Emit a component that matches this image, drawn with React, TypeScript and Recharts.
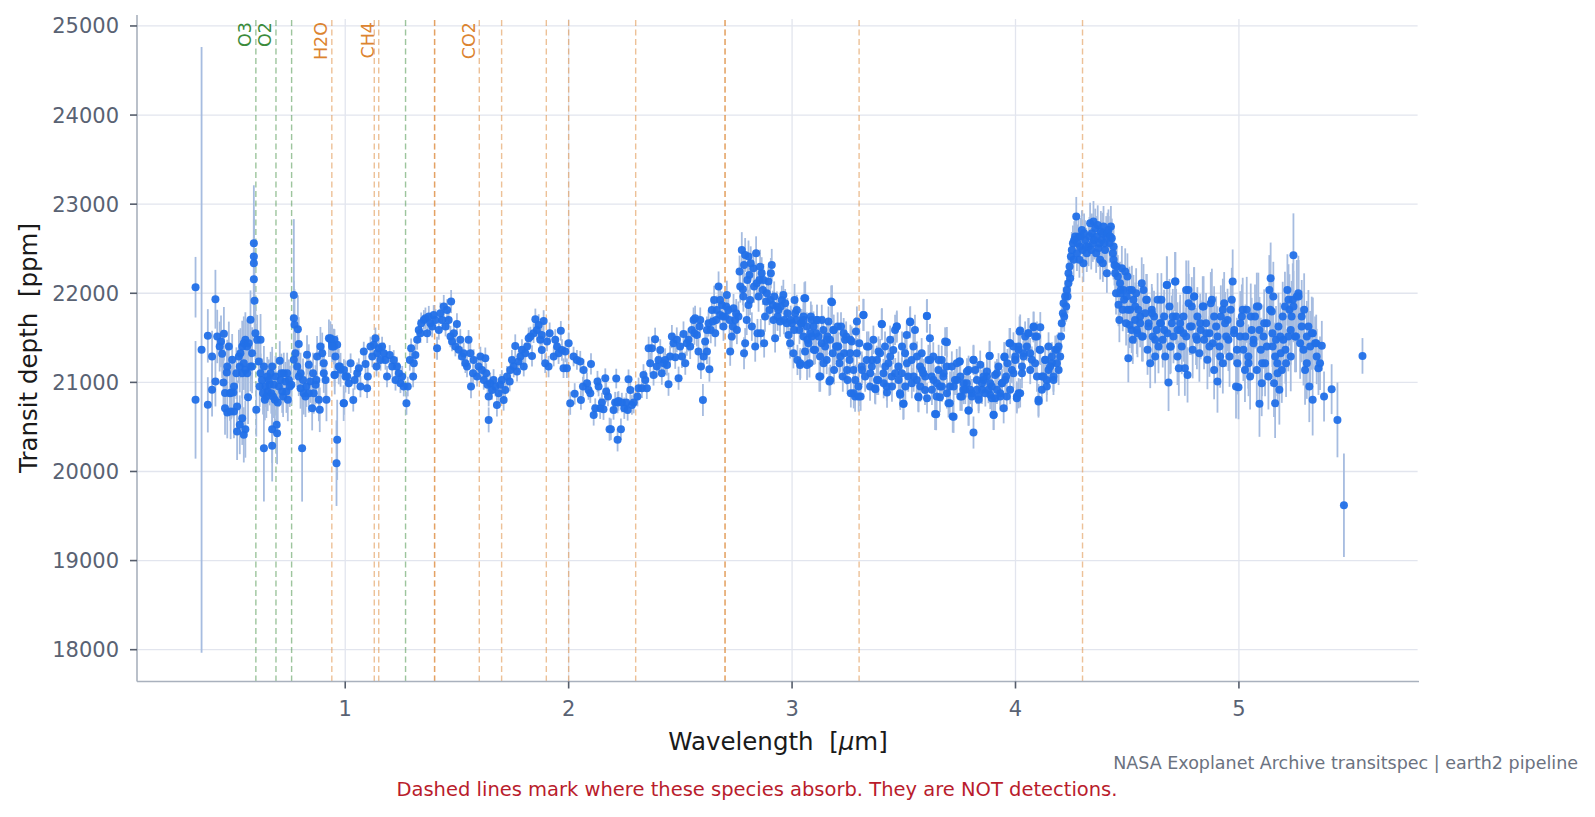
import React from 'react';
import { ScatterChart, Scatter, XAxis, YAxis, ErrorBar, ReferenceLine } from 'recharts';

type Pt = [number, number, number];

const X_TICKS = [1, 2, 3, 4, 5];
const Y_TICKS = [18000, 19000, 20000, 21000, 22000, 23000, 24000, 25000];
const X_DOMAIN: [number, number] = [0.068, 5.806];
const Y_DOMAIN: [number, number] = [17643, 25123];

const O3_LINES = [0.6];
const O2_LINES = [0.69, 0.76, 1.27];
const H2O_LINES = [0.94, 1.13, 1.4, 1.9, 2.7];
const CH4_LINES = [1.15, 1.4, 1.7, 2.3, 3.3];
const CO2_LINES = [1.6, 2.0, 2.7, 4.3];

const GREEN = '#3b8b3b';
const ORANGE = '#dc8430';

// wavelength [um], transit depth [ppm], 1-sigma error [ppm]
const SEG_UV: Pt[] = [
[0.330,22068,340],[0.330,20804,660],[0.357,21365,3400],[0.385,21522,300],[0.385,20748,310],[0.404,21290,290],[0.404,20916,300],[0.419,21933,330],[0.419,21010,280],[0.427,21515,300],[0.438,21402,280],[0.444,21460,290],[0.449,21320,270],[0.457,21545,300],[0.455,21000,280],[0.462,20880,290],[0.470,21110,270],[0.472,21178,300],[0.479,21402,280],[0.484,20879,310],[0.494,21253,290],[0.490,20886,300],[0.499,20886,280],[0.462,20711,300],[0.472,20662,290],[0.487,20673,310],[0.502,20673,300],[0.516,20730,290],[0.516,20448,320],[0.528,20524,330],[0.539,20598,300],[0.546,20411,310],[0.553,20475,320],[0.502,20954,280],[0.513,21103,290],[0.524,21290,300],[0.531,21328,280],[0.539,21402,290],[0.546,21440,300],[0.553,21477,310],[0.561,21402,300],[0.568,21440,290],[0.576,21702,330],[0.561,21103,280],[0.565,20834,300],[0.583,21328,290],[0.598,21552,300],[0.606,21477,280],[0.621,21477,290],[0.602,20692,300],[0.591,22562,650],[0.591,22412,520],[0.591,22337,500],[0.591,22158,480],[0.594,21915,450],[0.528,21178,290],[0.539,21103,280],[0.546,21215,300],[0.553,21141,290],[0.576,21178,280],[0.583,21178,300]
];

const SEG_VIS: Pt[] = [
[0.613,21234,230],[0.621,21103,220],[0.628,21028,240],[0.636,21178,230],[0.636,20262,600],[0.643,20954,230],[0.647,20841,240],[0.653,20898,220],[0.658,21028,230],[0.666,21103,240],[0.669,20879,230],[0.673,21178,220],[0.673,20288,400],[0.673,20475,380],[0.680,20972,230],[0.685,20804,240],[0.693,20524,330],[0.695,20430,350],[0.698,20774,240],[0.703,20954,230],[0.707,21242,220],[0.710,21028,230],[0.718,20898,240],[0.725,21103,230],[0.733,21010,220],[0.740,21103,230],[0.743,20804,240],[0.752,20954,230],[0.770,21982,850],[0.770,21720,420],[0.773,21646,400],[0.788,21597,380],[0.792,21432,300],[0.770,21253,230],[0.777,21328,240],[0.785,21178,230],[0.792,21066,220],[0.800,20935,230],[0.807,20262,600],[0.814,20879,240],[0.822,20841,230],[0.829,21309,220],[0.837,21197,230],[0.844,21010,240],[0.852,20711,250],[0.859,20879,230],[0.867,20972,220],[0.874,21290,230],[0.882,20804,240],[0.886,20692,250],[0.889,21402,220],[0.897,21328,230],[0.904,21215,220],[0.916,20804,240],[0.927,21496,210],[0.934,21485,200],[0.941,21440,210],[0.949,21402,200],[0.956,21290,210],[0.953,21085,220],[0.964,20355,450],[0.961,20093,480],[0.971,21178,200],[0.979,21141,190],[0.993,20767,200],[1.001,21066,180],
[0.617,20954,230],[0.632,20879,240],[0.640,20804,230],[0.651,21066,220],[0.662,20972,230],[0.677,20841,240],[0.688,21066,230],[0.714,21103,220],[0.722,20841,230],[0.737,20898,240],[0.748,21028,230],[0.759,20972,220],[0.800,21103,230],[0.811,21028,240],[0.826,20954,230],[0.837,20879,220],[0.856,21103,230],[0.871,21028,240],[0.904,21103,220],[0.912,21028,230]
];

const SEG_NIR1: Pt[] = [
[0.934,21495,110],[0.952,21477,120],[0.964,21421,110],[0.941,21402,120],[0.952,21084,130],[0.976,21177,110],[0.994,21140,120],[0.994,20766,130],[1.009,21065,110],[1.016,20990,120],[1.024,21215,110],[1.036,20803,130],[1.042,21028,110],[1.054,21103,120],[1.061,21159,110],[1.068,20953,120],[1.083,21346,110],[1.091,21207,120],[1.098,20934,110],[1.101,21065,120],[1.113,21402,110],[1.121,21290,120],[1.128,21421,110],[1.135,21495,120],[1.140,21177,110],[1.143,21327,120],[1.150,21383,110],[1.158,21252,120],[1.165,21402,110],[1.173,21327,120],[1.180,21252,110],[1.187,21065,120],[1.199,21308,110],[1.210,21177,120],[1.217,21252,110],[1.225,21028,120],[1.232,21177,110],[1.240,21103,120],[1.247,20990,110],[1.255,21065,120],[1.262,20953,110],[1.274,20766,130],[1.280,20953,110],[1.289,21252,120],[1.295,21383,110],[1.304,21065,120],[1.307,21215,110],[1.314,21308,120],[1.322,21477,110],[1.329,21589,120],[1.337,21552,110],[1.340,21664,120],[1.352,21701,110],[1.359,21720,120],[1.367,21552,110],[1.374,21738,120],[1.381,21664,110],[1.389,21626,120],[1.396,21757,110],[1.404,21701,120],[1.411,21383,130],[1.419,21589,110],[1.426,21776,120],[1.434,21701,110],[1.441,21851,130],[1.449,21626,110],[1.456,21813,120],[1.463,21701,110],[1.474,21907,130],[1.471,21514,120],[1.478,21458,110],[1.486,21552,120],[1.493,21402,110],[1.500,21656,120],[1.508,21365,110],[1.515,21477,120],[1.523,21290,110],[1.530,21327,120],[1.538,21215,110],[1.545,21177,120],[1.552,21477,110],[1.560,21327,120],[1.563,20953,130],[1.572,21103,110],[1.575,21252,120],[1.590,21065,110],[1.597,21177,120],[1.605,21290,110],[1.612,21140,120],[1.620,21028,110],[1.627,21271,120],[1.631,21103,110],[1.637,20972,120],[1.642,20841,110],[1.642,20579,140],[1.649,20990,120],[1.657,20915,110],[1.664,21028,120],[1.672,20953,110],[1.679,20747,130],[1.687,20878,110],[1.694,20972,120],[1.701,21028,110],[1.709,20803,120],[1.716,20915,110],[1.724,21065,120],[1.736,21009,110],[1.739,21140,120],[1.746,21252,110],[1.754,21177,120],[1.761,21409,130],[1.769,21121,110],[1.776,21233,120],[1.784,21290,110],[1.791,21365,120],[1.799,21177,110],[1.806,21327,120],[1.814,21402,110],[1.821,21495,120],[1.829,21514,110],[1.836,21297,120],[1.843,21552,110],[1.851,21708,120],[1.858,21589,110],[1.866,21645,120],[1.873,21477,110]
];

const SEG_NIR2: Pt[] = [
[1.888,21690,120],[1.880,21533,110],[1.880,21364,120],[1.903,21458,110],[1.915,21552,120],[1.895,21215,110],[1.910,21177,120],[1.933,21290,110],[1.940,21477,120],[1.948,21402,110],[1.955,21327,120],[1.965,21578,110],[1.970,21364,120],[1.977,21159,110],[1.985,21346,120],[1.992,21159,110],[2.000,21439,120],[2.007,20766,130],[2.022,21290,110],[2.027,20871,120],[2.037,21252,110],[2.052,21233,120],[2.055,20803,110],[2.067,21140,120],[2.064,20953,110],[2.082,20990,120],[2.089,20915,110],[2.100,21207,120],[2.097,20878,110],[2.112,20635,120],[2.119,20710,110],[2.129,21009,120],[2.134,20953,110],[2.141,20710,120],[2.149,20773,110],[2.156,20699,120],[2.164,21047,110],[2.168,20897,120],[2.176,20841,110],[2.183,20474,130],[2.189,20474,120],[2.201,20691,110],[2.208,20773,120],[2.213,21043,110],[2.219,20773,120],[2.223,20792,110],[2.234,20474,120],[2.219,20355,130],[2.238,20773,110],[2.249,20710,120],[2.258,20773,110],[2.264,20691,120],[2.268,21035,110],[2.276,20915,120],[2.283,20747,110],[2.291,20773,120],[2.308,20841,110],[2.313,20934,120],[2.328,20934,110],[2.335,21084,120],[2.343,21028,110],[2.350,20934,120],[2.358,21383,130],[2.365,21215,120],[2.372,21383,130],[2.380,21084,120],[2.387,21484,130],[2.395,21177,120],[2.402,21252,130],[2.410,21364,120],[2.417,21103,130],[2.425,21215,120],[2.432,21252,130],[2.440,21196,120],[2.447,20979,130],[2.454,21290,120],[2.462,21514,130],[2.469,21439,120],[2.477,21282,130],[2.484,21477,140],[2.492,21047,130],[2.499,21402,140],[2.507,21290,130],[2.514,21544,140],[2.522,21215,130],[2.529,21439,140],[2.536,21477,130],[2.544,21402,140],[2.559,21701,140],[2.563,21552,130],[2.566,21720,140],[2.574,21533,130],[2.581,21346,140],[2.586,21626,130],[2.592,21177,140],[2.601,20803,180],[2.604,21290,140],[2.611,21458,130],[2.619,21346,140],[2.626,21664,150],[2.630,21148,140],[2.636,21589,150],[2.645,21682,140],[2.651,21925,160],[2.656,21552,150],[2.663,21813,160],[2.671,22075,170],[2.678,21757,160],[2.686,21869,150],[2.693,21626,160],[2.700,21738,150],[2.708,21981,160],[2.715,21813,150],[2.723,21346,160],[2.730,21514,150],[2.738,21832,160],[2.745,21701,150],[2.753,21589,160],[2.760,21738,170],[2.765,22243,180],[2.775,22486,200],[2.780,22045,180],[2.782,21963,170],[2.785,21327,180],[2.790,21439,170],[2.790,22430,190],[2.797,21701,170],[2.805,22412,180],[2.805,21869,170],[2.809,22206,180],[2.812,21925,170],[2.820,21626,160],[2.827,22281,180],[2.835,21402,170],[2.839,22449,190],[2.842,22112,170],[2.845,21552,160],[2.850,21963,170],[2.854,22150,180],[2.860,21552,160],[2.864,22225,180],[2.869,22038,170],[2.875,21439,160],[2.879,21738,170],[2.884,21907,160],[2.894,22131,170],[2.902,21925,160],[2.905,22225,170],[2.909,22318,180],[2.914,21869,160],[2.917,21701,170],[2.924,21495,160],[2.932,21851,170],[2.939,21813,160],[2.946,21682,170],[2.954,21925,160],[2.961,21981,170],[2.969,21888,160],[2.976,21664,170],[2.984,21533,160],[2.991,21439,170],[2.999,21664,160],[3.006,21327,170],[3.011,21925,180],[3.014,21776,170],[3.021,21701,160],[3.024,21252,170],[3.033,21589,160],[3.036,21196,170],[3.043,21664,160],[3.051,21514,170],[3.055,21944,180],[3.058,21346,170],[3.066,21626,160],[3.073,21439,170],[3.078,21215,160],[3.084,21738,170],[3.088,21514,160],[3.096,21626,170],[3.103,21364,160],[3.111,21701,170],[3.118,21514,160],[3.122,21065,170],[3.125,21290,160],[3.133,21439,170],[3.140,21589,160],[3.148,21402,170],[3.155,21252,160],[3.163,21682,170],[3.167,21009,160],[3.170,21477,170],[3.175,21907,180],[3.182,21327,170],[3.188,21140,160],[3.197,21402,170],[3.204,21626,160],[3.212,21215,170],[3.219,21626,160],[3.227,21065,170],[3.233,21327,160],[3.242,21514,170],[3.248,21028,160],[3.257,21252,170],[3.263,20878,160],[3.267,21458,170],[3.275,21140,160],[3.282,20841,170],[3.286,21570,160],[3.290,21682,170],[3.297,20953,160],[3.301,21439,170],[3.307,20841,160],[3.312,21177,170],[3.319,21757,180],[3.327,21065,170],[3.334,21252,160],[3.342,21402,170],[3.349,20953,160],[3.357,21177,170],[3.364,21477,160],[3.371,20934,170],[3.379,21252,160],[3.386,21028,170],[3.394,21327,160],[3.401,21656,170],[3.409,21103,160],[3.416,21402,170],[3.424,20953,160],[3.431,21215,170],[3.439,21477,160],[3.446,21065,170],[3.453,21364,160],[3.461,21589,170],[3.468,21626,160],[3.476,21177,170],[3.483,20878,160],[3.491,21103,170],[3.498,20759,180],[3.506,21327,170],[3.513,21533,160],[3.520,21065,170],[3.528,21682,160],[3.535,21252,170],[3.543,21402,160],[3.550,21589,170],[3.558,21028,160],[3.565,20841,170],[3.573,21177,160],[3.580,21327,170],[3.587,21103,160],[3.595,20915,170],[3.603,21746,180],[3.610,21252,170],[3.617,21495,160],[3.625,21065,170],[3.632,21290,160],[3.640,20646,180],[3.647,20841,170],[3.655,21140,160],[3.662,20953,170],[3.670,21252,160],[3.677,21065,170],[3.685,21458,160],[3.692,21177,170],[3.700,20766,160],[3.707,20953,170],[3.719,20616,180],[3.729,21028,170],[3.737,21215,160]
];

const SEG_NIR2_EXTRA: Pt[] = [
[2.551,21589,140],[2.589,21701,140],[2.619,21589,150],[2.641,21813,150],[2.660,21701,160],[2.678,21925,160],[2.690,21738,150],[2.705,21851,160],[2.720,21701,150],[2.735,21626,160],[2.750,21776,160],[2.768,22075,180],[2.785,22318,190],[2.800,22150,180],[2.815,22337,190],[2.830,22075,180],[2.857,22299,190],[2.872,22150,180],[2.887,22000,170],[2.899,21813,170],[2.920,21963,170],[2.935,21738,160],[2.949,21851,170],[2.964,21701,160],[2.979,21776,170],[2.994,21701,160],[3.009,21589,170],[3.021,21813,170],[3.039,21664,160],[3.051,21738,170],[3.069,21477,160],[3.088,21701,170],[3.108,21552,160],[3.133,21701,170],[3.158,21514,160],[3.185,21589,170],[3.207,21402,160],[3.237,21477,170],[3.260,21327,160],
[3.059,21944,190],[3.179,21899,190],[3.320,21757,180],[3.402,21653,180],[3.469,21626,180],[3.529,21675,180],[3.604,21746,190],[3.693,21451,170],[3.750,21234,170],[3.812,21252,170],[3.884,21297,170],[3.950,21282,170],[4.021,21582,180],[3.645,20643,180],[3.723,20613,180],[3.790,20684,170],[3.902,20635,170],[3.499,20759,170],[3.566,20834,170],[3.604,20822,170],[3.662,20834,170],[3.706,20766,170],[3.276,20878,170],[3.298,20841,170],[3.373,20923,170],[3.425,20886,170],[3.484,20860,170],[3.126,21065,170],[3.171,21028,170],[3.067,21196,170],[3.037,21215,170],[3.097,21365,170],[3.141,21215,170],[3.201,21402,170],[3.231,21552,170],[3.261,21477,170],[3.290,21327,170],[3.335,21402,170],[3.358,21252,170],[3.387,21346,170],[3.417,21178,170],[3.439,21290,170],[3.462,21103,170],[3.492,21402,170],[3.514,21215,170],[3.544,21065,170],[3.559,21290,170],[3.581,21140,170],[3.618,21252,170],[3.633,21028,170],[3.656,21252,170],[3.678,21103,170],[3.715,21178,170],[3.738,21028,170],[3.767,20916,160],[3.790,21140,160],[3.827,21028,160],[3.850,20916,160],[3.872,21065,160],[3.894,20953,160],[3.917,21103,160],[3.932,20878,160],[3.954,21028,160],[3.976,21440,170],[3.999,21252,170],[4.014,21402,170],[4.036,21290,170],[4.058,21552,170],[4.081,21626,170],[4.096,21514,170],[4.111,21365,170],[4.133,21252,170],[4.148,21140,170],[4.170,21028,170],[4.185,21365,170],[4.103,20785,180],[4.006,20841,170],[4.014,20878,170],
[3.052,21701,170],[3.082,21552,170],[3.112,21701,170],[3.156,21477,170],[3.186,21589,170],[3.216,21290,170],[3.246,21140,170],[3.283,21028,170],[3.313,21140,170],[3.350,21103,170],[3.380,21028,170],[3.410,20991,170],[3.447,20953,170],[3.477,21028,170],[3.507,20953,170],[3.536,20991,170],[3.574,20953,170],[3.596,21065,170],[3.626,20916,170],[3.648,20991,170],[3.671,20953,170],[3.693,20878,170],[3.723,20953,170],[3.753,20841,160],[3.782,20991,160],[3.805,20878,160],[3.835,20841,160],[3.857,21028,160],[3.887,20860,160],[3.909,20822,160],[3.939,20991,160],[3.961,20841,160],[3.991,21103,170],[4.029,21103,170],[4.066,21327,170],[4.088,21215,170],[4.118,21065,170],[4.140,21028,170],[4.163,21215,170],[4.193,21140,170]
];

const SEG_MIR: Pt[] = [
[3.750,21234,160],[3.753,21066,150],[3.760,20841,160],[3.768,20991,150],[3.775,20916,160],[3.783,21122,150],[3.790,20684,170],[3.797,20916,160],[3.805,20841,150],[3.812,21253,160],[3.812,20437,180],[3.820,21140,150],[3.827,20916,160],[3.835,20804,150],[3.842,21197,160],[3.850,20991,150],[3.857,21066,160],[3.865,20879,150],[3.872,21122,160],[3.879,20916,150],[3.884,21298,160],[3.887,20991,150],[3.894,20822,160],[3.902,20636,170],[3.909,21084,150],[3.917,20916,160],[3.924,21178,150],[3.932,20841,160],[3.939,20991,150],[3.947,20710,170],[3.951,21290,160],[3.958,21066,150],[3.964,21215,160],[3.973,21440,170],[3.976,20916,160],[3.984,21140,150],[3.991,21402,160],[3.999,21290,150],[4.006,20822,170],[4.014,21365,160],[4.018,21570,170],[4.021,20879,160],[4.029,21178,150],[4.036,21328,160],[4.043,21514,170],[4.051,21402,160],[4.058,21552,170],[4.066,21140,160],[4.073,21253,150],[4.081,21619,170],[4.088,21514,160],[4.096,21066,170],[4.103,20804,180],[4.108,21365,160],[4.111,21619,170],[4.118,20916,160],[4.125,21066,170],[4.133,21253,160],[4.140,20954,170],[4.148,21402,160],[4.155,21178,170],[4.163,21290,160],[4.170,21066,170],[4.178,21365,160],[4.185,21215,170],[4.193,21402,160],[4.200,21290,170],[4.204,21514,170],[4.207,21664,180],[4.212,21776,170],[4.215,21888,180],[4.218,21739,170],[4.222,21963,180],[4.227,21851,170],[4.230,22038,180],[4.237,22113,190],[4.237,22225,190],[4.245,22169,190],[4.248,22412,200],[4.257,22562,200],[4.260,22375,190],[4.267,22636,210],[4.272,22861,220],[4.275,22449,200],[4.282,22636,210],[4.286,22375,200],[4.289,22524,210],[4.297,22711,220],[4.301,22487,200],[4.304,22337,210],[4.312,22599,220],[4.319,22449,210],[4.327,22524,220],[4.334,22786,230],[4.342,22674,220],[4.346,22562,210],[4.349,22805,230],[4.357,22730,220],[4.364,22636,230],[4.368,22767,220],[4.371,22506,210],[4.379,22375,220],[4.382,22693,230],[4.386,22599,220],[4.391,22337,210],[4.394,22749,230],[4.401,22487,220],[4.406,22636,230],[4.409,22225,220],[4.416,22711,230],[4.421,22562,220],[4.427,22749,230],[4.431,22618,220],[4.436,22449,230],[4.439,22375,220],[4.446,22225,230],[4.450,22001,240],[4.453,22300,230],[4.461,21870,240],[4.465,21701,250],[4.468,22113,240],[4.476,22281,250],[4.480,21814,240],[4.483,22038,250],[4.491,22244,260],[4.495,21664,250],[4.501,22188,260],[4.505,21271,270],[4.510,22038,260],[4.513,21814,270],[4.520,21589,260],[4.525,21477,270],[4.528,21926,280],[4.535,21701,270],[4.540,22001,280],[4.546,21552,270],[4.550,21814,280],[4.558,21664,270],[4.565,22113,290],[4.570,21514,280],[4.573,22038,290],[4.580,21776,280],[4.588,21926,290],[4.591,21365,280],[4.595,21626,290],[4.603,21215,280],[4.610,21814,290],[4.614,21514,300],[4.620,21739,290],[4.625,21290,300],[4.632,21589,290],[4.640,21402,300],[4.647,21664,310],[4.653,21926,300],[4.659,21477,310],[4.665,21739,300],[4.670,21290,310],[4.677,22094,320],[4.680,21552,300],[4.685,20998,320],[4.689,21851,310],[4.695,21402,300],[4.700,21664,310],[4.707,21514,300],[4.714,22132,330],[4.719,21739,310],[4.725,21290,320],[4.731,21159,310],[4.737,21589,320],[4.744,21402,310],[4.752,21739,320],[4.758,21159,310],[4.764,21514,320],[4.770,21084,310],[4.774,22038,330],[4.781,21626,320],[4.789,21851,330],[4.793,21365,320],[4.799,21963,330],[4.808,21514,320],[4.814,21739,330],[4.823,21327,320],[4.829,21589,330],[4.838,21851,340],[4.844,21477,330],[4.853,21664,340],[4.859,21253,330],[4.868,21552,340],[4.874,21888,350],[4.883,21440,340],[4.889,21140,330],[4.898,21626,340],[4.904,21010,350],[4.913,21402,340],[4.919,21739,350],[4.928,21215,340],[4.934,21888,350],[4.943,21514,340],[4.949,21701,350],[4.958,21290,340],[4.963,21814,350],[4.972,22132,360],[4.978,21552,350],[4.987,20954,360],[4.993,21215,350],[4.998,20946,360],[5.005,21514,350],[5.013,21739,360],[5.020,21365,350],[5.027,21140,360],[5.035,21814,370],[5.042,21290,360],[5.050,21066,370],[5.057,21589,360],[5.065,21440,370],[5.072,21739,360],[5.080,21140,370],[5.087,21851,380],[5.092,20759,370],[5.098,21365,360],[5.102,20991,370],[5.110,21514,360],[5.117,21215,370],[5.125,21664,380],[5.132,21066,370],[5.136,22038,390],[5.142,22169,400],[5.147,21795,380],[5.151,21402,370],[5.154,21963,390],[5.157,20991,380],[5.162,20766,390],[5.166,21477,380],[5.172,21215,370],[5.177,21626,380],[5.181,20916,390],[5.187,21327,380],[5.192,21140,370],[5.199,21477,380],[5.206,21851,390],[5.211,21215,380],[5.217,22038,400],[5.221,21514,390],[5.226,21814,400],[5.232,21290,390],[5.236,21739,400],[5.241,21926,410],[5.244,22427,470],[5.251,21514,400],[5.259,21963,410],[5.266,22001,420],[5.274,21440,400],[5.281,21739,410],[5.289,21365,400],[5.296,21140,390],[5.304,21215,400],[5.311,21626,410],[5.315,20954,400],[5.326,21552,410],[5.330,20804,400],[5.341,21440,300],[5.348,21290,310],[5.356,21159,300],[5.371,21410,280],[5.381,20841,280],[5.415,20924,280],[5.441,20579,420],[5.470,19621,580],[5.553,21297,200]
];

const SEG_MIR_EXTRA: Pt[] = [
[4.233,21963,190],[4.242,22300,200],[4.252,22487,200],[4.263,22599,210],[4.278,22562,210],[4.292,22636,210],[4.307,22674,220],[4.316,22524,210],[4.331,22636,220],[4.339,22487,220],[4.352,22599,220],[4.361,22449,220],[4.376,22562,220],[4.389,22674,230],[4.398,22562,220],[4.412,22674,230],[4.424,22636,230],[4.439,22524,230],[4.443,22318,230],[4.458,22188,240],[4.471,22038,240],[4.486,21926,250],[4.498,21963,250],
[4.469,22001,250],[4.502,21814,260],[4.511,21645,260],[4.521,22038,270],[4.536,21851,270],[4.543,21589,270],[4.558,21739,280],[4.566,21514,280],[4.585,21926,290],[4.596,21664,290],[4.611,21776,290],[4.625,21477,300],[4.636,21926,300],[4.651,21664,300],[4.666,21589,310],[4.678,22094,320],[4.692,21402,310],[4.704,21739,310],[4.716,22132,330],[4.725,21589,310],[4.737,21664,320],[4.752,21552,320],[4.764,22038,330],[4.775,21888,330],[4.789,21626,320],[4.800,21963,330],[4.812,21477,330],[4.827,21664,330],[4.842,21851,340],[4.854,21552,340],[4.868,21402,340],[4.879,21926,350],[4.889,21739,340],[4.904,21514,340],[4.916,21290,350],[4.928,21814,350],[4.938,21664,350],[4.953,21477,350],[4.968,21926,360],[4.979,21589,350],[4.991,21365,360],[5.006,21664,360],[5.017,21814,360],[5.029,21514,360],[5.043,21215,370],[5.053,21739,370],[5.065,21477,370],[5.080,21851,380],[5.092,21589,370],[5.104,21215,370],[5.113,21664,380],[5.125,21402,370],[5.140,21814,390],[5.150,21552,380],[5.162,21290,380],[5.173,21103,380],[5.185,21514,380],[5.196,21739,390],[5.208,21365,380],[5.222,21926,400],[5.232,21589,390],[5.244,21851,400],[5.256,21514,400],[5.267,21963,410],[5.281,21626,400],[5.292,21814,410],[5.304,21514,400],[5.319,21402,400],[5.331,21552,400],[5.346,21440,320],[5.363,21215,300]
];

const DATA = [...SEG_UV, ...SEG_VIS, ...SEG_NIR1, ...SEG_NIR2, ...SEG_NIR2_EXTRA, ...SEG_MIR, ...SEG_MIR_EXTRA].map(([x, y, e]) => ({ x, y, e }));

const FONT = 'DejaVu Sans, Verdana, sans-serif';
const GRID = '#e2e5ee';

const SpeciesLabel = (props: any) => {
  const { viewBox, text, color } = props;
  if (!viewBox) return null;
  const x = viewBox.x - 4.5;
  const y = viewBox.y + 7;
  return (
    <text x={x} y={y} transform={`rotate(-90 ${x} ${y})`} textAnchor="end" fill={color} fontSize={17.5} fontFamily={FONT}>
      {text}
    </text>
  );
};

const lineGroups: { name: string; lines: number[]; color: string }[] = [
  { name: 'O3', lines: O3_LINES, color: GREEN },
  { name: 'O2', lines: O2_LINES, color: GREEN },
  { name: 'H2O', lines: H2O_LINES, color: ORANGE },
  { name: 'CH4', lines: CH4_LINES, color: ORANGE },
  { name: 'CO2', lines: CO2_LINES, color: ORANGE },
];

const Dot = (p: any) => <circle cx={p.cx} cy={p.cy} r={4} fill="#2270e8" fillOpacity={0.95} />;

export default function App() {
  return (
    <div style={{ position: 'absolute', left: 0, top: 0, width: 1595, height: 817, background: '#ffffff' }}>
      <div style={{ position: 'absolute', left: 0, top: 0, zIndex: 1 }}>
        <ScatterChart
          width={1595}
          height={817}
          margin={{ top: 15, right: 176, bottom: 95.5, left: 0 }}
          accessibilityLayer={false}
          style={{ outline: 'none' }}
        >
          {Y_TICKS.map((t) => (
            <ReferenceLine key={`gy-${t}`} y={t} stroke={GRID} strokeWidth={1.3} />
          ))}
          {X_TICKS.map((t) => (
            <ReferenceLine key={`gx-${t}`} x={t} stroke={GRID} strokeWidth={1.3} />
          ))}
          <XAxis
            type="number"
            dataKey="x"
            domain={X_DOMAIN}
            ticks={X_TICKS}
            allowDataOverflow
            height={40}
            tickSize={7}
            tickMargin={13}
            axisLine={{ stroke: '#a9b1bd', strokeWidth: 1.6 }}
            tickLine={{ stroke: '#555d6b', strokeWidth: 1.6 }}
            tick={{ fontSize: 21, fill: '#596273', fontFamily: FONT }}
          />
          <YAxis
            type="number"
            dataKey="y"
            domain={Y_DOMAIN}
            ticks={Y_TICKS}
            allowDataOverflow
            width={137}
            tickSize={7}
            tickMargin={11}
            axisLine={{ stroke: '#a9b1bd', strokeWidth: 1.6 }}
            tickLine={{ stroke: '#555d6b', strokeWidth: 1.6 }}
            tick={{ fontSize: 21, fill: '#596273', fontFamily: FONT }}
          />
          {lineGroups.map((g) =>
            g.lines.map((v, i) => (
              <ReferenceLine
                key={`${g.name}-${v}`}
                x={v}
                stroke={g.color}
                strokeOpacity={0.5}
                strokeWidth={1.4}
                strokeDasharray="6 3.5"
                label={i === 0 ? <SpeciesLabel text={g.name} color={g.color} /> : undefined}
              />
            ))
          )}
          <Scatter data={DATA} isAnimationActive={false} shape={Dot}>
            <ErrorBar dataKey="e" direction="y" width={0} stroke="#a6bce0" strokeWidth={1.8} />
          </Scatter>
        </ScatterChart>
      </div>
      <svg width={1595} height={817} style={{ position: 'absolute', left: 0, top: 0, pointerEvents: 'none', zIndex: 2 }}>
        {/* the reference has no top/right frame: blank out the plot's top and right edges */}
        <rect x={138.5} y={9} width={1295} height={10} fill="#ffffff" />
        <rect x={1417.6} y={9} width={14} height={671.3} fill="#ffffff" />
        <text x={778} y={750} textAnchor="middle" fontSize={24.5} fill="#1a1a1a" fontFamily={FONT} style={{ whiteSpace: 'pre' }}>
          {'Wavelength  ['}
          <tspan fontStyle="italic">μ</tspan>
          {'m]'}
        </text>
        <text x={37} y={348} transform="rotate(-90 37 348)" textAnchor="middle" fontSize={24.5} fill="#1a1a1a" fontFamily={FONT} style={{ whiteSpace: 'pre' }}>
          {'Transit depth  [ppm]'}
        </text>
        <text x={1578} y={768.5} textAnchor="end" fontSize={17.5} fill="#6b7280" fontFamily={FONT}>
          NASA Exoplanet Archive transitspec | earth2 pipeline
        </text>
        <text x={757} y={795.5} textAnchor="middle" fontSize={19.5} fill="#b91c2c" fontFamily={FONT}>
          Dashed lines mark where these species absorb. They are NOT detections.
        </text>
      </svg>
    </div>
  );
}
